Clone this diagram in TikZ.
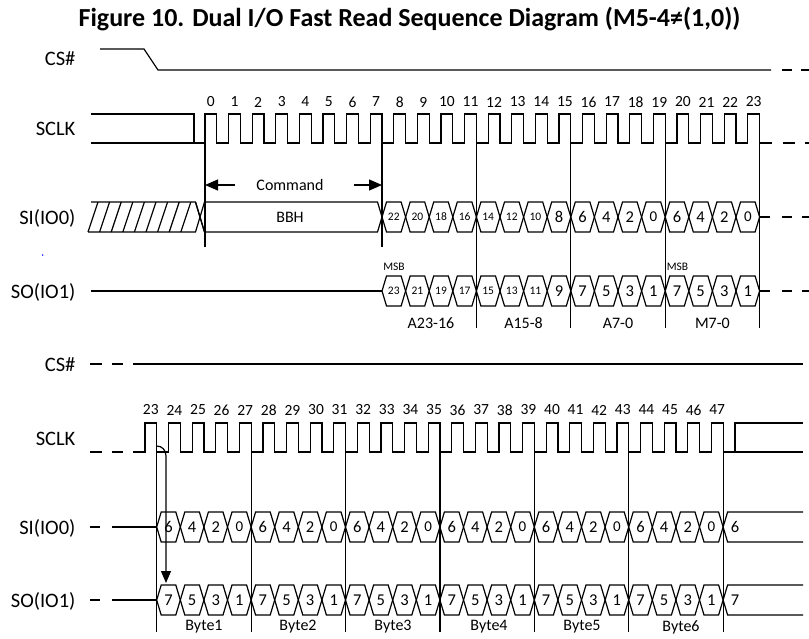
\documentclass[tikz,border=0pt]{standalone}
\usepackage{fontspec}
\setmainfont{Carlito}
\usetikzlibrary{arrows.meta}
\newcommand\hexS{\fontsize{11.5}{12}\selectfont}
\newcommand\hexB{\fontsize{16.5}{17}\selectfont}
\newcommand\hexZ{\fontsize{15}{16}\selectfont}
\newcommand\hexrow[4]{%
  \foreach \dd/\ff [count=\cnt from 0] in {#4} {
    \pgfmathsetmacro\xa{#1+23.6*\cnt}
    \pgfmathsetmacro\xb{\xa+23.6}
    \draw (\xa,#2) -- ({\xa+4.5},{#2-15}) -- ({\xb-4.5},{#2-15}) -- (\xb,#2) -- ({\xb-4.5},{#2+15}) -- ({\xa+4.5},{#2+15}) -- cycle;
    \node[hx,font=\csname hex\ff\endcsname] (#3\cnt) at ({\xa+11.8},#2) {\dd};
  }%
}
\begin{document}
\begin{tikzpicture}[x=1pt,y=-1pt,line width=1.2pt,
  lbl/.style={anchor=base east,font=\fontsize{20.5}{22}\selectfont,inner sep=0pt},
  num/.style={font=\fontsize{15.5}{16}\selectfont,inner sep=0pt},
  grp/.style={font=\fontsize{16}{17}\selectfont,inner sep=0pt},
  hx/.style={inner sep=0pt},
  tip/.style={-{Triangle[length=13pt,width=11pt]}}]
\fill[white] (0,0) rectangle (809,638);
\useasboundingbox (0,0) rectangle (809,638);

% title
\node[font=\bfseries\fontsize{26}{28}\selectfont,anchor=base,inner sep=0pt] (title) at (409.5,26) {Figure 10. Dual I/O Fast Read Sequence Diagram (M5-4≠(1,0))};

% labels
\node[lbl] (lcs1) at (76,65) {CS\#};
\node[lbl] (lck1) at (76,135) {SCLK};
\node[lbl] (lsi1) at (76,224) {SI(IO0)};
\node[lbl] (lso1) at (76,298) {SO(IO1)};
\node[lbl] (lcs2) at (76,371) {CS\#};
\node[lbl] (lck2) at (76,445) {SCLK};
\node[lbl] (lsi2) at (76,534) {SI(IO0)};
\node[lbl] (lso2) at (76,607) {SO(IO1)};

% ---------- top CS#
\draw (100,49) -- (144,49) -- (158,70) -- (771,70);
\draw (782,70) -- (792,70) (801,70) -- (811,70);

% ---------- top SCLK
\draw (91,114) -- (194,114) -- (194,143);
\draw (91,143) foreach \k in {0,...,23} { -- ({205+23.6*\k},143) -- ({205+23.6*\k},114) -- ({216.8+23.6*\k},114) -- ({216.8+23.6*\k},143) } -- (772,143);
\draw (783,143) -- (795,143) (805,143) -- (811,143);
\foreach \k in {0,...,23} \node[num] (n\k) at ({210.9+23.6*\k},102) {\k};

% vertical markers top
\draw (205,143) -- (205,247) (382,143) -- (382,247);
\foreach \x in {476.4,570.8,665.2,759.6} \draw (\x,143) -- (\x,328);

% command arrow
\node[grp] (cmd) at (290,185) {Command};
\coordinate (cmdL) at (205,185);
\coordinate (cmdR) at (382,185);
\draw[tip] (235,185) -- (cmdL);
\draw[tip] (354,185) -- (cmdR);

% ---------- top SI
\draw (91,202) -- (195.5,202) -- (200,217) -- (195.5,232) -- (88,232);
\foreach \i in {0,...,8} \draw ({88+11.6*\i},232) -- ({98+11.6*\i},202);
\draw (195.5,202) -- (204.5,232);
\draw (200,217) -- (204.5,202) -- (377.5,202) -- (382,217) -- (377.5,232) -- (204.5,232) -- cycle;
\node[grp] (bbh) at (290,217) {BBH};
\hexrow{382}{217}{sia}{22/S,20/S,18/S,16/S,14/S,12/S,10/S,8/B,6/B,4/B,2/B,0/Z,6/B,4/B,2/B,0/Z}
\draw (759.6,217) -- (770,217);
\draw (782,217) -- (792,217) (802,217) -- (811,217);

% ---------- top SO
\draw (91,291) -- (382,291);
\hexrow{382}{291}{soa}{23/S,21/S,19/S,17/S,15/S,13/S,11/S,9/B,7/B,5/B,3/B,1/B,7/B,5/B,3/B,1/B}
\draw (759.6,291) -- (770,291);
\draw (782,291) -- (792,291) (802,291) -- (811,291);
\node[font=\fontsize{11.5}{12}\selectfont,inner sep=0pt] (msb1) at (394,267) {MSB};
\node[font=\fontsize{11.5}{12}\selectfont,inner sep=0pt] (msb2) at (677.5,267) {MSB};

\node[grp] (ga) at (431,323) {A23-16};
\node[grp] (gb) at (523.6,323) {A15-8};
\node[grp] (gc) at (618,323) {A7-0};
\node[grp] (gd) at (712.4,323) {M7-0};

\fill[blue] (42.7,255) circle (0.8);

% ---------- bottom CS#
\draw (90,364) -- (102,364) (112,364) -- (123,364);
\draw (133,364) -- (803,364);

% ---------- bottom SCLK
\draw (90,452) -- (102,452) (112,452) -- (123,452);
\draw (133,452) foreach \k in {23,...,47} { -- ({144.9+23.6*(\k-23)},452) -- ({144.9+23.6*(\k-23)},423) -- ({156.7+23.6*(\k-23)},423) -- ({156.7+23.6*(\k-23)},452) } -- (735,452) -- (735,423) -- (803,423);
\draw (735,452) -- (803,452);
\foreach \k in {23,...,47} \node[num] (m\k) at ({150.8+23.6*(\k-23)},410) {\k};

\foreach \j in {0,...,6} \draw ({156.7+94.4*\j},452) -- ({156.7+94.4*\j},632);

% ---------- bottom SI
\draw (90,527) -- (100,527) (112,527) -- (156.7,527);
\hexrow{156.7}{527}{sib}{6/B,4/B,2/B,0/Z,6/B,4/B,2/B,0/Z,6/B,4/B,2/B,0/Z,6/B,4/B,2/B,0/Z,6/B,4/B,2/B,0/Z,6/B,4/B,2/B,0/Z}
\draw (723.1,527) -- (727.6,512) -- (803,512);
\draw (723.1,527) -- (727.6,542) -- (803,542);
\node[hx,font=\hexB] (sie) at (735,527) {6};

% ---------- bottom SO
\draw (90,600) -- (100,600) (112,600) -- (156.7,600);
\hexrow{156.7}{600}{sob}{7/B,5/B,3/B,1/B,7/B,5/B,3/B,1/B,7/B,5/B,3/B,1/B,7/B,5/B,3/B,1/B,7/B,5/B,3/B,1/B,7/B,5/B,3/B,1/B}
\draw (723.1,600) -- (727.6,585) -- (803,585);
\draw (723.1,600) -- (727.6,615) -- (803,615);
\node[hx,font=\hexB] (soe) at (735,600) {7};

% delay arrow
\coordinate (arA) at (156.7,446);
\coordinate (arB) at (166,583);
\draw[-{Triangle[length=12pt,width=10pt]}] (arA) .. controls (162,446) and (166,450) .. (166,456) -- (arB);

% byte labels
\node[grp] (b1) at (204,627) {Byte1};
\node[grp] (b2) at (298,627) {Byte2};
\node[grp] (b3) at (393,627) {Byte3};
\node[grp] (b4) at (489,627) {Byte4};
\node[grp] (b5) at (582,627) {Byte5};
\node[grp] (b6) at (681,627) {Byte6};
\end{tikzpicture}
\end{document}
